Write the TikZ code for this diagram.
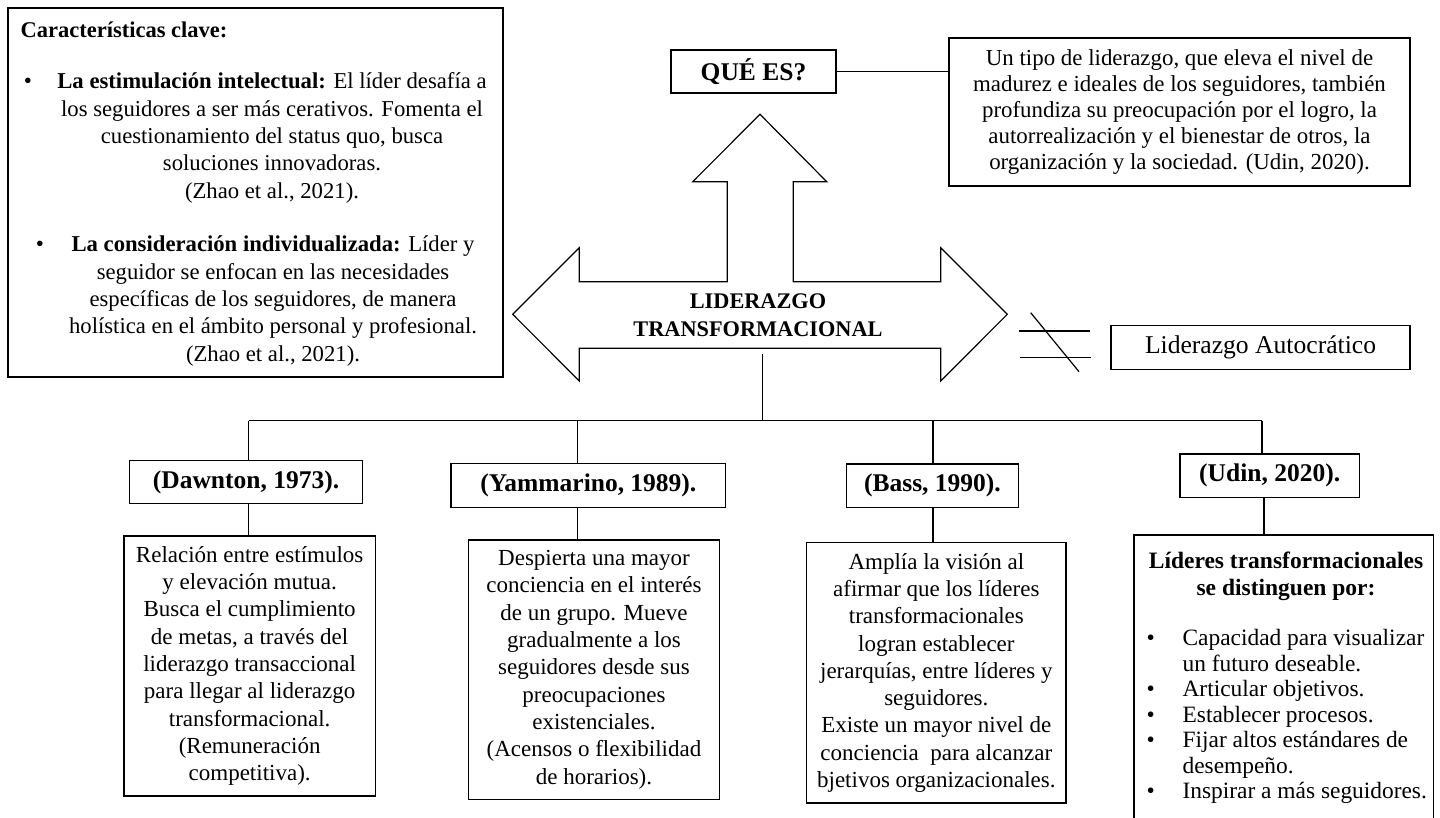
\documentclass[tikz,border=0pt]{standalone}
\usepackage{fontspec}
\setmainfont{Liberation Serif}
\begin{document}
\begin{tikzpicture}[x=1pt,y=-1pt,line width=1.2pt,
  box/.style={draw,inner sep=0pt,anchor=center,align=center},
  body/.style={font=\fontsize{23}{27.3}\selectfont},
  keytxt/.style={font=\fontsize{22.7}{27.3}\selectfont,align=center,inner sep=0pt},
  desctxt/.style={font=\fontsize{22.9}{26}\selectfont},
  hdr/.style={font=\bfseries\fontsize{25.5}{30}\selectfont},
  mid/.style={font=\bfseries\fontsize{22.3}{27.6}\selectfont,align=center,inner sep=0pt},
  conn/.style={draw,line width=1.2pt}]
\useasboundingbox (0,0) rectangle (1440,818);
\clip (0,0) rectangle (1440,818);

% ---------- left key box ----------
\node[box,minimum width=495pt,minimum height=369pt] (key) at (255.5,192.5) {};
\node[anchor=west,inner sep=0pt,font=\bfseries\fontsize{22.5}{27}\selectfont] (keytitle) at (20,30) {Características clave:};
\node[inner sep=0pt,body] (bul1) at (28,83) {•};
\node[keytxt] (key1) at (272,138) {\textbf{La estimulación intelectual:} El líder desafía a\\
los seguidores a ser más cerativos. Fomenta el\\
cuestionamiento del status quo, busca\\
soluciones innovadoras.\\
(Zhao et al., 2021).};
\node[inner sep=0pt,body] (bul2) at (40,246.5) {•};
\node[keytxt] (key2) at (273,301) {\textbf{La consideración individualizada:} Líder y\\
seguidor se enfocan en las necesidades\\
específicas de los seguidores, de manera\\
holística en el ámbito personal y profesional.\\
(Zhao et al., 2021).};

% ---------- top ----------
\node[box,hdr,minimum width=165pt,minimum height=43pt] (que) at (753.5,71.5) {QUÉ ES?};
\node[box,desctxt,minimum width=461pt,minimum height=148pt] (desc) at (1179.5,112) {Un tipo de liderazgo, que eleva el nivel de\\
madurez e ideales de los seguidores, también\\
profundiza su preocupación por el logro, la\\
autorrealización y el bienestar de otros, la\\
organización y la sociedad. (Udin, 2020).};
\draw[conn] (que.east) -- (que.east -| desc.west);

% ---------- big arrow ----------
\draw[fill=white] (760,114.3) -- (826.7,181.7) -- (793.3,181.7) -- (793.3,281.7)
  -- (940.7,281.7) -- (940.7,247.7) -- (1007.3,314.3) -- (940.7,381) -- (940.7,348.3)
  -- (579.3,348.3) -- (579.3,381) -- (512.7,314.3) -- (579.3,247.7) -- (579.3,281.7)
  -- (727.3,281.7) -- (727.3,181.7) -- (692.7,181.7) -- cycle;
\node[mid] (lt) at (758,315.5) {LIDERAZGO\\TRANSFORMACIONAL};

% ---------- not equal ----------
\draw (1019,331) -- (1090,331);
\draw (1020,357.7) -- (1091,357.7);
\draw (1030.7,312.7) -- (1079,371.7);
\node[box,minimum width=299pt,minimum height=43.6pt,font=\fontsize{25.6}{30}\selectfont] (auto) at (1260.5,347.5) {Liderazgo Autocrático};

% ---------- tree ----------
\coordinate (arrowbot) at (762.5,354);
\coordinate (hub) at (762.5,420.5);
\coordinate (cD) at (248.5,420.5);
\coordinate (cY) at (577.5,420.5);
\coordinate (cB) at (933,420.5);
\coordinate (cU) at (1262,420.5);
\coordinate (cU2) at (1264,420.5);
\draw[conn] (arrowbot) -- (hub);
\draw[conn] (cD) -- (cU);

\node[box,hdr,minimum width=233.4pt,minimum height=42.6pt] (dh) at (246,482) {(Dawnton, 1973).};
\node[box,hdr,minimum width=274.7pt,minimum height=44pt] (yh) at (588.35,485.3) {(Yammarino, 1989).};
\node[box,hdr,minimum width=171.6pt,minimum height=43.3pt] (bh) at (932.5,485.65) {(Bass, 1990).};
\node[box,hdr,minimum width=179.3pt,minimum height=43.3pt] (uh) at (1269.65,475.65) {(Udin, 2020).};

\node[box,body,minimum width=251.3pt,minimum height=260pt] (dt) at (249.65,666) {Relación entre estímulos\\
y elevación mutua.\\
Busca el cumplimiento\\
de metas, a través del\\
liderazgo transaccional\\
para llegar al liderazgo\\
transformacional.\\
(Remuneración\\
competitiva).};
\node[box,body,minimum width=250.6pt,minimum height=259.3pt] (yt) at (594,669.65) {Despierta una mayor\\
conciencia en el interés\\
de un grupo. Mueve\\
gradualmente a los\\
seguidores desde sus\\
preocupaciones\\
existenciales.\\
(Acensos o flexibilidad\\
de horarios).};
\node[box,body,minimum width=259.3pt,minimum height=260.3pt] (bt) at (936.35,672.85) {Amplía la visión al\\
afirmar que los líderes\\
transformacionales\\
logran establecer\\
jerarquías, entre líderes y\\
seguidores.\\
Existe un mayor nivel de\\
conciencia\ \ para alcanzar\\
bjetivos organizacionales.};
\node[box,minimum width=299.3pt,minimum height=305pt] (ut) at (1283.65,687.5) {};
\node[inner sep=0pt,align=center,font=\bfseries\fontsize{23.5}{27}\selectfont] (utitle) at (1286,576.5) {Líderes transformacionales\\se distinguen por:};
\node[inner sep=0pt,anchor=west,align=left,font=\fontsize{23.4}{25.5}\selectfont] (ulist) at (1146,716.5) {\makebox[36pt][l]{•}Capacidad para visualizar\\
\hspace*{36pt}un futuro deseable.\\
\makebox[36pt][l]{•}Articular objetivos.\\
\makebox[36pt][l]{•}Establecer procesos.\\
\makebox[36pt][l]{•}Fijar altos estándares de\\
\hspace*{36pt}desempeño.\\
\makebox[36pt][l]{•}Inspirar a más seguidores.};

\draw[conn] (cD) -- (cD |- dh.north);
\draw[conn] (dh.south -| cD) -- (dt.north -| cD);
\draw[conn] (cY) -- (cY |- yh.north);
\draw[conn] (yh.south -| cY) -- (yt.north -| cY);
\draw[conn] (cB) -- (cB |- bh.north);
\draw[conn] (bh.south -| cB) -- (bt.north -| cB);
\draw[conn] (cU) -- (cU |- uh.north);
\draw[conn] (uh.south -| cU2) -- (ut.north -| cU2);
\end{tikzpicture}
\end{document}
